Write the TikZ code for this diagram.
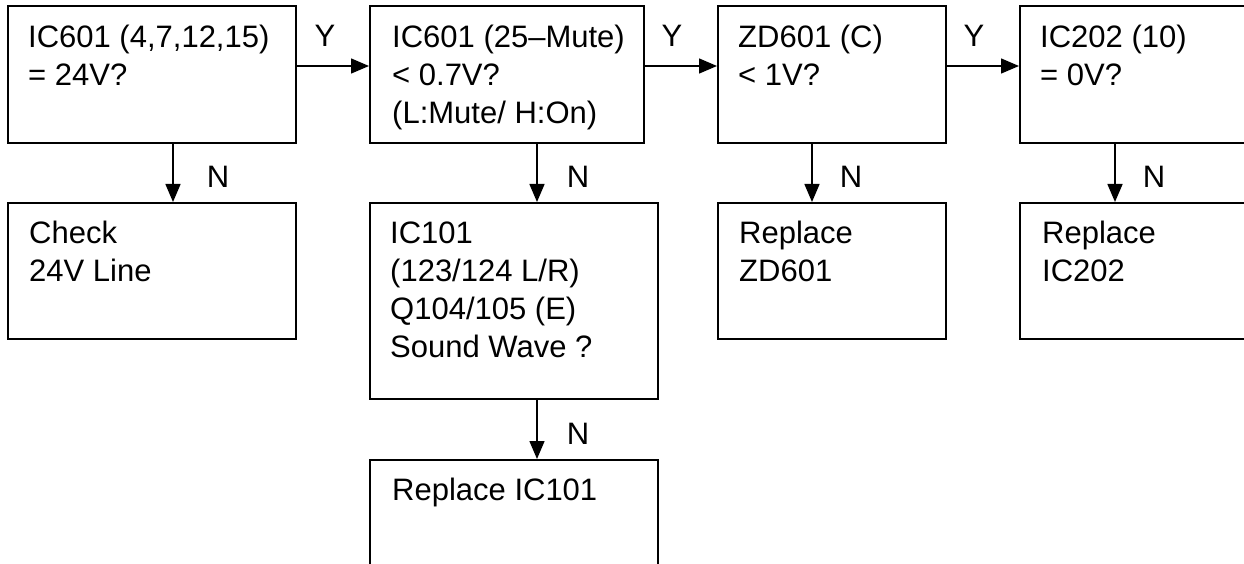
\documentclass[tikz,border=0pt]{standalone}
\usepackage{fontspec}
\setmainfont{Liberation Sans}
\usetikzlibrary{arrows.meta}
\begin{document}
\begin{tikzpicture}[x=1pt,y=1pt,
  box/.style={draw=black, line width=1.6pt, rectangle, inner sep=0pt, anchor=north west},
  txt/.style={anchor=north west, inner sep=0pt, align=left, font=\fontsize{31}{38}\selectfont},
  lbl/.style={anchor=base, inner sep=0pt, font=\fontsize{31}{38}\selectfont},
  arr/.style={line width=1.5pt, -{Triangle[length=18pt,width=15pt]}}]
\useasboundingbox (0,0) rectangle (1244,-564);
% boxes
\node[box, minimum width=288pt, minimum height=137pt] (A) at (7,-5) {};
\node[box, minimum width=274pt, minimum height=137pt] (B) at (369,-5) {};
\node[box, minimum width=228pt, minimum height=137pt] (C) at (717,-5) {};
\node[box, minimum width=290pt, minimum height=137pt] (D) at (1019,-5) {};
\node[box, minimum width=288pt, minimum height=136pt] (E) at (7,-202) {};
\node[box, minimum width=288pt, minimum height=196pt] (F) at (369,-202) {};
\node[box, minimum width=228pt, minimum height=136pt] (G) at (717,-202) {};
\node[box, minimum width=290pt, minimum height=136pt] (H) at (1019,-202) {};
\node[box, minimum width=288pt, minimum height=150pt] (I) at (369,-459) {};
% texts
\node[txt] (tA) at ([xshift=21pt,yshift=-15.4pt]A.north west) {\strut IC601 (4,7,12,15)\\\strut = 24V?};
\node[txt] (tB) at ([xshift=23pt,yshift=-15.4pt]B.north west) {\strut IC601 (25\textendash Mute)\\\strut < 0.7V?\\\strut (L:Mute/ H:On)};
\node[txt] (tC) at ([xshift=21pt,yshift=-15.4pt]C.north west) {\strut ZD601 (C)\\\strut < 1V?};
\node[txt] (tD) at ([xshift=21pt,yshift=-15.4pt]D.north west) {\strut IC202 (10)\\\strut = 0V?};
\node[txt] (tE) at ([xshift=22pt,yshift=-14.4pt]E.north west) {\strut Check\\\strut 24V Line};
\node[txt] (tF) at ([xshift=21pt,yshift=-14.4pt]F.north west) {\strut IC101\\\strut (123/124 L/R)\\\strut Q104/105 (E)\\\strut Sound Wave ?};
\node[txt] (tG) at ([xshift=22pt,yshift=-14.4pt]G.north west) {\strut Replace\\\strut ZD601};
\node[txt] (tH) at ([xshift=23pt,yshift=-14.4pt]H.north west) {\strut Replace\\\strut IC202};
\node[txt] (tI) at ([xshift=23pt,yshift=-14.4pt]I.north west) {\strut Replace IC101};
% horizontal Y arrows
\draw[arr] (A.east |- 0,-66) -- (B.west |- 0,-66);
\draw[arr] (B.east |- 0,-66) -- (C.west |- 0,-66);
\draw[arr] (C.east |- 0,-66) -- (D.west |- 0,-66);
\node[lbl] (y1) at (325,-47) {Y};
\node[lbl] (y2) at (672,-47) {Y};
\node[lbl] (y3) at (974,-47) {Y};
% vertical N arrows
\draw[arr] (173,0 |- A.south) -- (173,0 |- E.north);
\draw[arr] (537,0 |- B.south) -- (537,0 |- F.north);
\draw[arr] (812,0 |- C.south) -- (812,0 |- G.north);
\draw[arr] (1115,0 |- D.south) -- (1115,0 |- H.north);
\draw[arr] (537,0 |- F.south) -- (537,0 |- I.north);
\node[lbl] (n1) at (218,-188) {N};
\node[lbl] (n2) at (578,-188) {N};
\node[lbl] (n3) at (851,-188) {N};
\node[lbl] (n4) at (1154,-188) {N};
\node[lbl] (n5) at (578,-444) {N};
\end{tikzpicture}
\end{document}
